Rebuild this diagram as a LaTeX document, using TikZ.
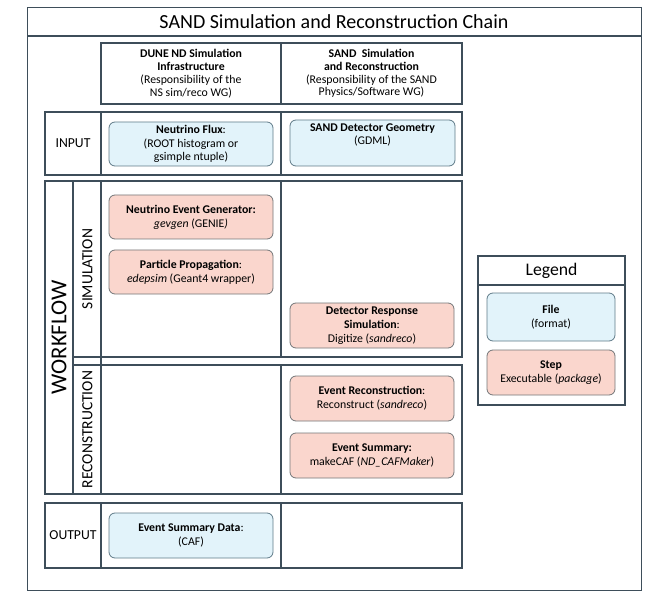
\documentclass[tikz,border=0pt]{standalone}
\usepackage{fontspec}
\setmainfont{Carlito}
\definecolor{frame}{RGB}{62,78,90}
\definecolor{fileFill}{RGB}{226,243,250}
\definecolor{fileLine}{RGB}{95,122,136}
\definecolor{stepFill}{RGB}{250,214,205}
\definecolor{stepLine}{RGB}{115,118,120}
\tikzset{
  cell/.style={draw=frame, line width=1.1pt},
  boxtext/.style={align=center, font=\fontsize{11.8}{13.8}\selectfont, inner sep=0pt},
  filebox/.style={boxtext, draw=fileLine, fill=fileFill, rounded corners=6pt, line width=0.8pt},
  stepbox/.style={boxtext, draw=stepLine, fill=stepFill, rounded corners=6pt, line width=0.8pt},
  headcell/.style={cell, align=center, font=\fontsize{11.8}{12.8}\selectfont, inner sep=0pt},
  rowlabel/.style={font=\fontsize{13.7}{15}\selectfont, inner sep=0pt},
  sublabel/.style={rotate=90, font=\fontsize{15.5}{17}\selectfont, inner sep=0pt},
}
\begin{document}
\begin{tikzpicture}[x=1pt, y=-1pt]
\useasboundingbox (0,0) rectangle (654,591);
% outer frame and title
\node[cell, minimum width=614pt, minimum height=583pt, anchor=north west] (outer) at (27,7) {};
\draw[cell] (27,36) -- (641,36);
\node[font=\fontsize{20}{22}\selectfont, inner sep=0pt] (title) at (334,21.5) {SAND Simulation and Reconstruction Chain};

% header cells
\node[headcell, minimum width=180pt, minimum height=61pt] (hdune) at (191,73.5)
  {\textbf{DUNE ND Simulation}\\\textbf{Infrastructure}\\(Responsibility of the\\NS sim/reco WG)};
\node[headcell, minimum width=181pt, minimum height=61pt] (hsand) at (371.5,73.5)
  {\textbf{SAND\ \ Simulation}\\\textbf{and Reconstruction}\\(Responsibility of the SAND\\Physics/Software WG)};

% INPUT row
\draw[cell] (45,112) rectangle (462,175);
\draw[cell] (101,112) -- (101,175);
\draw[cell] (281,112) -- (281,175);
\node[rowlabel] (input) at (73,143.5) {INPUT};
\node[filebox, minimum width=164pt, minimum height=44pt] (flux) at (191,144)
  {\textbf{Neutrino Flux}:\\(ROOT histogram or\\gsimple ntuple)};
\node[filebox, minimum width=165pt, minimum height=46pt] (geom) at (372.5,143)
  {\textbf{SAND Detector Geometry}\\(GDML)\\[4pt]};

% WORKFLOW block
\draw[cell] (45,181) rectangle (73,494);
\node[sublabel, font=\fontsize{22.8}{24}\selectfont] (wf) at (59,337.5) {WORKFLOW};
\draw[cell] (101,181) -- (101,494);
% simulation row
\draw[cell] (73,181) rectangle (462,357);
\draw[cell] (281,181) -- (281,357);
\node[sublabel] (sim) at (87.5,269) {SIMULATION};
% reconstruction row
\draw[cell] (73,365) rectangle (462,494);
\draw[cell] (281,365) -- (281,494);
\node[sublabel] (rec) at (87.5,429.5) {RECONSTRUCTION};

\node[stepbox, minimum width=164pt, minimum height=44pt] (gen) at (191,217)
  {\textbf{Neutrino Event Generator:}\\\textit{gevgen} (GENIE\textit{)}};
\node[stepbox, minimum width=164pt, minimum height=44pt] (prop) at (191,272)
  {\textbf{Particle Propagation}:\\\textit{edepsim} (Geant4 wrapper)};
\node[stepbox, minimum width=164pt, minimum height=45pt] (det) at (372,325.5)
  {\textbf{Detector Response}\\\textbf{Simulation}:\\Digitize (\textit{sandreco})};
\node[stepbox, minimum width=164pt, minimum height=45pt] (reco) at (372,398.5)
  {\textbf{Event Reconstruction}:\\Reconstruct (\textit{sandreco})};
\node[stepbox, minimum width=164pt, minimum height=45pt] (summ) at (372,455.5)
  {\textbf{Event Summary:}\\makeCAF (\textit{ND\_CAFMaker})};

% OUTPUT row
\draw[cell] (45,503) rectangle (462,568);
\draw[cell] (101,503) -- (101,568);
\draw[cell] (281,503) -- (281,568);
\node[rowlabel] (output) at (73,535.5) {OUTPUT};
\node[filebox, minimum width=164pt, minimum height=45pt] (caf) at (191,535.5)
  {\textbf{Event Summary Data}:\\(CAF)};

% Legend
\node[cell, minimum width=147pt, minimum height=149pt] (legend) at (551.5,330.5) {};
\draw[cell] (478,285) -- (625,285);
\node[font=\fontsize{17.7}{19}\selectfont, inner sep=0pt] (legtitle) at (551.5,270.5) {Legend};
\node[filebox, minimum width=128pt, minimum height=48pt] (lfile) at (551,317)
  {\textbf{File}\\(format)};
\node[stepbox, minimum width=128pt, minimum height=45pt] (lstep) at (551,372.5)
  {\textbf{Step}\\Executable (\textit{package})};
\end{tikzpicture}
\end{document}
